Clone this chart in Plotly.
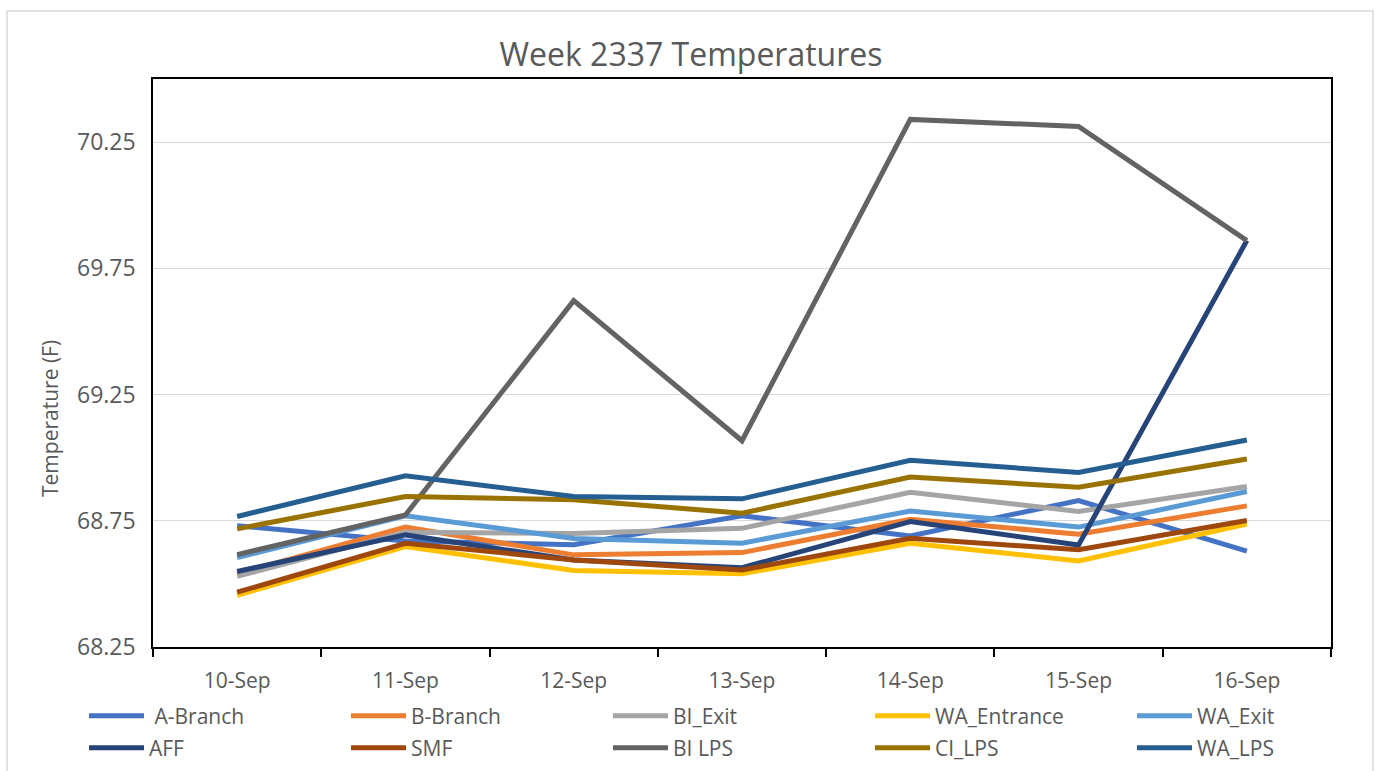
import plotly.graph_objects as go

dates = ["10-Sep", "11-Sep", "12-Sep", "13-Sep", "14-Sep", "15-Sep", "16-Sep"]

a_branch = [68.73, 68.67, 68.655, 68.77, 68.69, 68.83, 68.63]
b_branch = [68.54, 68.725, 68.615, 68.624, 68.756, 68.697, 68.809]
bi_exit = [68.53, 68.705, 68.70, 68.72, 68.863, 68.787, 68.886]
wa_entrance = [68.455, 68.648, 68.553, 68.54, 68.661, 68.591, 68.737]
wa_exit = [68.604, 68.77, 68.68, 68.661, 68.789, 68.725, 68.866]
aff = [68.549, 68.694, 68.595, 68.564, 68.747, 68.654, 69.86]
smf = [68.467, 68.661, 68.595, 68.555, 68.681, 68.635, 68.751]
bi_lps = [68.616, 68.773, 69.622, 69.067, 70.34, 70.312, 69.86]
ci_lps = [68.718, 68.846, 68.833, 68.78, 68.923, 68.883, 68.995]
wa_lps = [68.767, 68.928, 68.846, 68.837, 68.99, 68.941, 69.07]

series_names = ["\u00a0A-Branch", "B-Branch", "BI_Exit", "WA_Entrance", "WA_Exit",
                "AFF", "SMF", "BI LPS", "CI_LPS", "WA_LPS"]
series_values = [a_branch, b_branch, bi_exit, wa_entrance, wa_exit,
                 aff, smf, bi_lps, ci_lps, wa_lps]
series_colors = ["#4472C4", "#ED7D31", "#A5A5A5", "#FFC000", "#5B9BD5",
                 "#264478", "#9E480E", "#636363", "#997300", "#255E91"]

FONT = "Open Sans"
TXT = "#595959"

fig = go.Figure()
for i, (name, vals, col) in enumerate(zip(series_names, series_values, series_colors)):
    fig.add_trace(go.Scatter(
        x=dates, y=vals, name=name, mode="lines",
        line=dict(color=col, width=5),
        legend="legend" if i < 5 else "legend2",
        legendwidth=120 if i in (4, 9) else None,
    ))

W, H = 1375, 771
L, R, T, B = 153, 44, 79, 124
pw = W - L - R
ph = H - T - B

def px_x(p):
    return (p - L) / pw

def px_y(p):
    return (H - B - p) / ph

legend_common = dict(
    orientation="h", xanchor="left", yanchor="middle",
    font=dict(family=FONT, size=21, color=TXT),
    itemwidth=55, entrywidth=192, entrywidthmode="pixels",
    bgcolor="rgba(0,0,0,0)", traceorder="normal",
)

fig.update_layout(
    width=W, height=H,
    margin=dict(l=L, r=R, t=T, b=B, autoexpand=False),
    paper_bgcolor="white", plot_bgcolor="white",
    font=dict(family=FONT, color=TXT),
    title=dict(text="Week 2337 Temperatures", x=691 / W, xanchor="center",
               y=1 - 55 / H, yanchor="middle",
               font=dict(family=FONT, size=32, color=TXT)),
    legend=dict(x=px_x(84), y=px_y(716), **legend_common),
    legend2=dict(x=px_x(84), y=px_y(748), **legend_common),
    showlegend=True,
)

fig.update_xaxes(
    type="category", range=[-0.5, len(dates) - 0.5], showgrid=False,
    showline=True, linecolor="black", linewidth=1.5, mirror=True,
    ticks="outside", tickson="boundaries", ticklen=8, tickcolor="black", tickwidth=1.5,
    tickfont=dict(family=FONT, size=21, color=TXT),
    ticklabelstandoff=14,
)
fig.update_yaxes(
    range=[68.25, 70.5], tick0=68.25, dtick=0.5, tickformat=".2f",
    showgrid=True, gridcolor="#D9D9D9", gridwidth=1.3,
    showline=True, linecolor="black", linewidth=1.5, mirror=True,
    ticks="", zeroline=False,
    tickfont=dict(family=FONT, size=23, color=TXT),
    ticklabelstandoff=11,
)

fig.add_annotation(text="Temperature (F)", xref="paper", yref="paper",
                   x=px_x(50), y=px_y(418), xanchor="center", yanchor="middle",
                   textangle=-90, showarrow=False,
                   font=dict(family=FONT, size=21, color=TXT))

fig.add_shape(type="rect", xref="paper", yref="paper",
              x0=px_x(7), x1=px_x(1373), y0=px_y(780), y1=px_y(11),
              line=dict(color="#D9D9D9", width=1.5), fillcolor="rgba(0,0,0,0)",
              layer="below")

fig.write_html("out.html", config={"displayModeBar": False},
               post_script="document.body.style.margin='0';")
